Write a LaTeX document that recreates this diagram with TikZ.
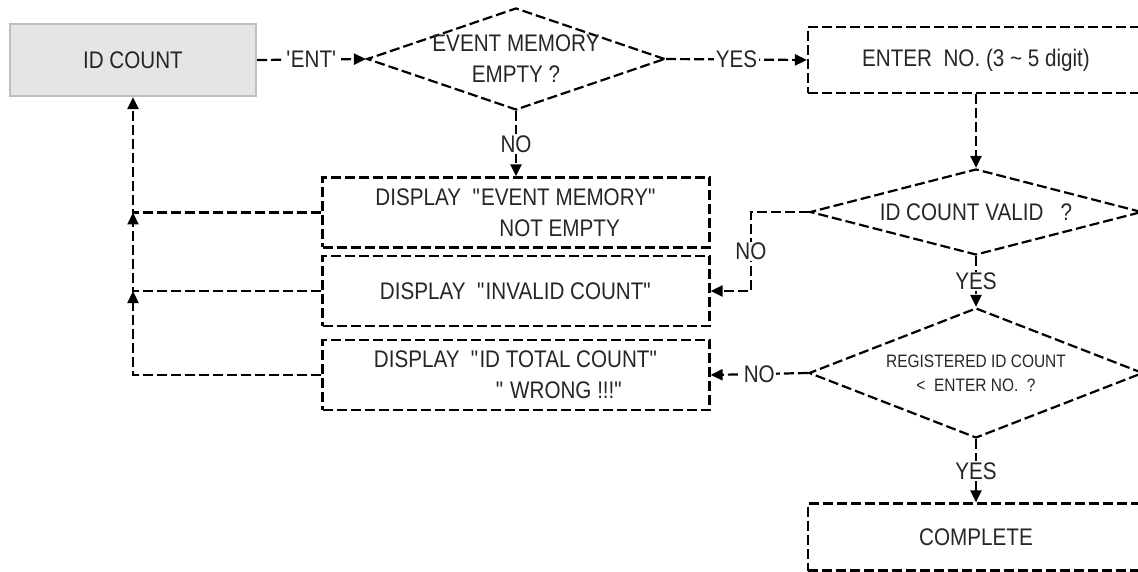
\documentclass[tikz,border=0pt]{standalone}
\usepackage{fontspec}
\setmainfont{Liberation Sans}[FakeStretch=0.86]
\usetikzlibrary{calc, shapes.geometric, arrows.meta}

\begin{document}
\begin{tikzpicture}[x=1pt, y=-1pt]
    % gray start box
    \tikzstyle{start}=[rectangle, draw=black!25, fill=black!10, line width=2.2pt, minimum width=246pt, minimum height=72pt, inner sep=0]
    % dashed boxes and decisions
    \tikzstyle{proc}=[rectangle, draw, dash pattern=on 10pt off 4pt, line width=2.2pt, minimum width=387pt, minimum height=70pt, inner sep=0]
    \tikzstyle{decide}=[diamond, draw, dash pattern=on 10pt off 4pt, line width=2.2pt, inner sep=0]
    \tikzstyle{txt}=[font=\fontsize{24}{31}\selectfont, text=black!85, align=center]
    \tikzstyle{lbl}=[txt, fill=white, inner sep=1.5pt]
    \tikzstyle{flow}=[line width=2.2pt, dash pattern=on 10pt off 4pt, -{Triangle[length=12pt, width=11pt]}]
    \useasboundingbox (0,0) rectangle (1138,572);
    % top row
    \node[start, txt] (idc) at (133,60) {ID COUNT};
    \node[decide, minimum width=298pt, minimum height=102pt] (q1) at (516,59) {};
    \node[txt] (q1t) at (q1) {EVENT MEMORY\\EMPTY ?};
    \node[proc, txt, minimum width=336pt, minimum height=66pt] (enter) at (976,60) {ENTER~ NO. (3 \textasciitilde{} 5 digit)};
    % right column
    \node[decide, minimum width=332pt, minimum height=86pt] (q2) at (976,212) {};
    \node[txt] (q2t) at (q2) {ID COUNT VALID \ \ ?};
    \node[decide, minimum width=334pt, minimum height=130pt] (q3) at (976,373) {};
    \node[txt, font=\fontsize{18}{24}\selectfont] (q3t) at (q3) {REGISTERED ID COUNT\\<~ ENTER NO.~ ?};
    \node[proc, txt, minimum width=336pt, minimum height=67pt] (done) at (976,537) {COMPLETE};
    % messages
    \node[proc, txt, align=left] (boxA) at (516,212.5) {DISPLAY~ \textquotedbl EVENT MEMORY\textquotedbl\\\hspace*{124pt}NOT EMPTY};
    \node[proc, txt] (boxB) at (516,291) {DISPLAY~ \textquotedbl INVALID COUNT\textquotedbl};
    \node[proc, txt, align=left] (boxC) at (516,375) {DISPLAY~ \textquotedbl ID TOTAL COUNT\textquotedbl\\\hspace*{122pt}\textquotedbl\ WRONG !!!\textquotedbl};
    % main flow
    \draw[flow] (idc.east) -- node[lbl] {\textquotesingle ENT\textquotesingle} (q1.west);
    \draw[flow] (q1.east) -- node[lbl] {YES} (enter.west);
    \draw[flow] (q1.south) -- node[lbl] {NO} (boxA.north);
    \draw[flow] (enter.south) -- (q2.north);
    \draw[flow] (q2.south) -- node[lbl] {YES} (q3.north);
    \draw[flow] (q3.south) -- node[lbl] {YES} (done.north);
    \draw[flow] (q3.west) -- node[lbl] {NO} (boxC.east);
    \coordinate (n2a) at ($(q2.west)+(-58,0)$);
    \coordinate (n2b) at (n2a |- boxB.east);
    \draw[flow] (q2.west) -- (n2a) -- node[lbl] {NO} (n2b) -- (boxB.east);
    % return to ID COUNT
    \coordinate (r1) at (idc.south |- boxA.west);
    \coordinate (r2) at (idc.south |- boxB.west);
    \coordinate (r3) at (idc.south |- boxC.west);
    \draw[flow] (boxC.west) -- (r3) -- (r2);
    \draw[flow] (boxB.west) -- (r2) -- (r1);
    \draw[flow] (boxA.west) -- (r1) -- (idc.south);
\end{tikzpicture}
\end{document}
